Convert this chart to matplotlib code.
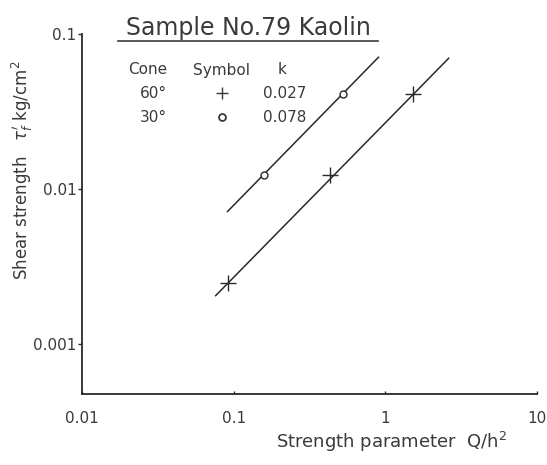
import matplotlib
matplotlib.use("Agg")
import matplotlib.pyplot as plt
from matplotlib.lines import Line2D

# datos
plus_x = [0.091, 0.433, 1.53]
plus_y = [0.00247, 0.0124, 0.041]
circ_x = [0.158, 0.527]
circ_y = [0.0124, 0.041]
# extremos de las rectas ajustadas
plus_line_x = [0.076, 2.61]
plus_line_y = [0.00206, 0.0697]
circ_line_x = [0.091, 0.90]
circ_line_y = [0.00718, 0.0708]

xticks = [0.01, 0.1, 1, 10]
xlabels = ["0.01", "0.1", "1", "10"]
yticks = [0.001, 0.01, 0.1]
ylabels = ["0.001", "0.01", "0.1"]

cones = ["60°", "30°"]
ks = ["0.027", "0.078"]

INK = "#2a2a2a"
TXT = "#3a3a3a"

fig = plt.figure(figsize=(5.47, 4.65), dpi=100)
ax = fig.add_axes([0.150, 0.153, 0.832, 0.774])

ax.plot(plus_line_x, plus_line_y, color=INK, lw=1.1)
ax.plot(circ_line_x, circ_line_y, color=INK, lw=1.1)
ax.plot(plus_x, plus_y, ls="none", marker="+", ms=11, mew=1.0, color=INK)
ax.plot(circ_x, circ_y, ls="none", marker="o", ms=5, mew=1.0, mfc="white", mec=INK)

ax.set_xscale("log")
ax.set_yscale("log")
ax.set_xlim(0.01, 10)
ax.set_ylim(0.00048, 0.1)
ax.minorticks_off()
ax.set_xticks(xticks)
ax.set_xticklabels(xlabels)
ax.set_yticks(yticks)
ax.set_yticklabels(ylabels)
ax.tick_params(axis="both", colors=INK, labelcolor=TXT, labelsize=11, width=1)
ax.tick_params(axis="y", length=3, pad=1)
ax.tick_params(axis="x", length=2, direction="in", pad=12)

for s in ["top", "right"]:
    ax.spines[s].set_visible(False)
for s in ["left", "bottom"]:
    ax.spines[s].set_color(INK)
    ax.spines[s].set_linewidth(1.3)

ax.set_xlabel("Strength parameter  Q/h$^2$", fontsize=13, color=TXT, labelpad=2)
ax.xaxis.set_label_coords(0.68, -0.10)
ax.set_ylabel("Shear strength   $\\tau_f^{\\prime}$ kg/cm$^2$", fontsize=12, color=TXT)
ax.yaxis.set_label_coords(-0.103, 0.62)

# titulo subrayado
fig.text(0.455, 1 - 28 / 465, "Sample No.79 Kaolin", fontsize=17, color=TXT,
         ha="center", va="center")
fig.add_artist(Line2D([118 / 547, 378 / 547], [1 - 41 / 465, 1 - 41 / 465],
                      color=TXT, lw=1.2))

# tabla de simbolos
def fx(px):
    return px / 547

def fy(py):
    return 1 - py / 465

fig.text(fx(148), fy(70), "Cone", fontsize=11, color=TXT, ha="center", va="center")
fig.text(fx(222), fy(70), "Symbol", fontsize=11, color=TXT, ha="center", va="center")
fig.text(fx(282), fy(70), "k", fontsize=11, color=TXT, ha="center", va="center")
rows = [93, 117]
for i, r in enumerate(rows):
    fig.text(fx(153), fy(r), cones[i], fontsize=11, color=TXT, ha="center", va="center")
    fig.text(fx(285), fy(r), ks[i], fontsize=11, color=TXT, ha="center", va="center")
fig.add_artist(Line2D([fx(222)], [fy(93)], marker="+", ms=9, mew=1.0, color=TXT, ls="none"))
fig.add_artist(Line2D([fx(222)], [fy(117)], marker="o", ms=5, mew=1.3, mfc="white",
                      mec=TXT, ls="none"))

fig.savefig("out.png", dpi=100, facecolor="white")
